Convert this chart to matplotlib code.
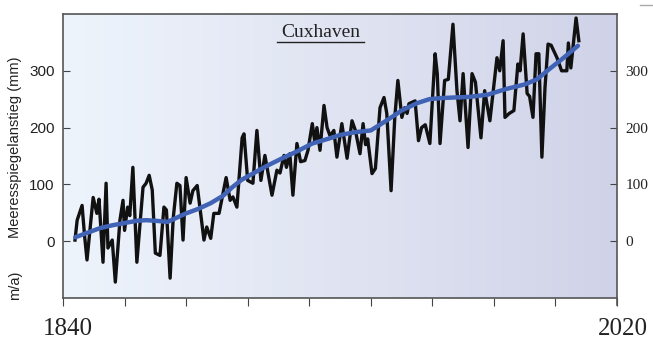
import numpy as np
import matplotlib.pyplot as plt
from matplotlib.colors import LinearSegmentedColormap

# annual sea level at Cuxhaven, vertices
years = [1843.9, 1844.6, 1846.2, 1847.0, 1847.8, 1849.8, 1851.0, 1851.7, 1853.0, 1854.0,
         1854.6, 1856.0, 1857.0, 1858.5, 1859.5, 1860.0, 1861.0, 1861.7, 1862.7, 1864.0,
         1866.0, 1867.0, 1868.0, 1869.0, 1870.0, 1871.5, 1872.8, 1873.6, 1874.8, 1875.8,
         1877.0, 1878.0, 1879.0, 1880.0, 1881.3, 1882.2, 1883.6, 1885.8, 1886.7, 1888.0,
         1889.0, 1890.7, 1893.0, 1894.3, 1895.2, 1896.5, 1898.2, 1898.8, 1900.0, 1901.7,
         1903.0, 1904.3, 1905.6, 1907.9, 1909.5, 1910.5, 1911.8, 1912.6, 1913.7, 1914.7,
         1916.0, 1917.2, 1918.6, 1919.6, 1921.0, 1921.8, 1922.5, 1923.5, 1924.8, 1925.8,
         1926.8, 1928.0, 1929.0, 1930.6, 1932.3, 1933.9, 1935.0, 1936.5, 1937.5, 1938.3,
         1939.0, 1940.4, 1941.5, 1943.0, 1944.3, 1945.2, 1946.6, 1947.8, 1948.8, 1950.1,
         1951.0, 1951.8, 1952.4, 1954.4, 1955.5, 1956.5, 1957.7, 1959.2, 1960.9, 1961.6,
         1962.5, 1964.0, 1965.2, 1966.7, 1968.0, 1969.0, 1970.0, 1971.6, 1972.9, 1974.0,
         1975.8, 1977.0, 1978.7, 1981.0, 1981.9, 1983.0, 1983.6, 1985.0, 1986.5, 1987.8,
         1988.5, 1989.5, 1990.8, 1991.6, 1992.7, 1993.7, 1994.6, 1995.6, 1996.6, 1997.6,
         1998.6, 2000.5, 2002.0, 2003.7, 2004.2, 2005.0, 2006.7, 2007.6]
sea_level = [2, 37, 63, 10, -33, 77, 49, 74, -37, 102,
             -12, 2, -72, 37, 72, 19, 60, 45, 130, -37,
             95, 102, 116, 90, -21, -25, 60, 55, -65, 40,
             102, 98, 2, 112, 67, 89, 98, 2, 25, 5,
             49, 49, 112, 72, 78, 60, 182, 189, 107, 102,
             195, 107, 151, 81, 125, 120, 151, 130, 154, 81,
             172, 140, 142, 160, 207, 175, 200, 160, 239, 200,
             185, 195, 148, 207, 146, 212, 195, 154, 207, 170,
             180, 119, 128, 235, 253, 225, 89, 218, 283, 218,
             235, 225, 242, 247, 177, 200, 205, 172, 330, 295,
             172, 283, 285, 382, 265, 212, 295, 165, 295, 280,
             182, 265, 212, 323, 300, 353, 218, 225, 230, 312,
             300, 365, 260, 255, 218, 330, 330, 148, 270, 347,
             345, 323, 300, 300, 349, 305, 393, 353]

# smoothed trend (blue)
trend_years = [1844, 1848, 1852, 1856, 1860, 1864, 1867, 1870, 1874, 1880,
               1884, 1888, 1892, 1895, 1898, 1902, 1906, 1912, 1916, 1921,
               1926, 1930, 1935, 1940, 1945, 1950, 1955, 1959, 1963, 1967,
               1972, 1978, 1984, 1990, 1994, 1998, 2002, 2007.3]
trend = [7, 15, 23, 28, 32, 36, 37, 36, 34, 49,
         57, 67, 80, 95, 108, 120, 132, 148, 158, 172,
         180, 187, 192, 195, 212, 230, 243, 250, 252, 253,
         254, 258, 268, 276, 285, 303, 320, 344]

fig = plt.figure(figsize=(6.53, 3.39), dpi=100)
ax = fig.add_axes([63 / 653, 1 - 298 / 339, 554 / 653, 284 / 339])

# background gradient
cmap = LinearSegmentedColormap.from_list('bg', ['#eef4fc', '#e0e4f2', '#d0d3e8'])
ax.imshow(np.linspace(0, 1, 256).reshape(1, -1), cmap=cmap, aspect='auto',
          extent=[1840, 2020, -100, 400], zorder=0)

ax.plot(years, sea_level, color='#111111', lw=2.4, solid_joinstyle='round', zorder=2)
ax.plot(trend_years, trend, color='#4063b5', lw=3.2, solid_capstyle='round', zorder=3)

ax.set_xlim(1840, 2020)
ax.set_ylim(-100, 400)
ax.set_xticks(np.arange(1840, 2021, 20))
ax.set_xticklabels([])
ax.tick_params(axis='x', direction='out', length=6, color='#444444')
ax.set_yticks([0, 100, 200, 300])
ax.tick_params(axis='y', direction='in', length=5, color='#444444',
               labelsize=11, pad=6, right=True, labelright=True)
for t in ax.yaxis.get_major_ticks():
    t.label1.set_family('Liberation Sans')
    t.label1.set_color('#222222')
    # right labels in serif
    t.label2.set_family('Liberation Serif')
    t.label2.set_fontsize(11)
    t.label2.set_color('#222222')

for side in ['left', 'bottom', 'top', 'right']:
    ax.spines[side].set_color('#555555')
    ax.spines[side].set_linewidth(1.2)
ax.spines['right'].set_bounds(-113, 400)

# title with underline
ax.text(0.465, 0.935, 'Cuxhaven', transform=ax.transAxes, ha='center', va='center',
        fontsize=14, family='Liberation Serif', color='#222222')
ax.plot([0.386, 0.543], [0.9, 0.9], transform=ax.transAxes, color='#222222',
        lw=1.0, clip_on=False)

fig.text(15 / 653, 1 - 147 / 339, 'Meeresspiegelanstieg (mm)', rotation=90,
         ha='center', va='center', fontsize=10.5, family='Liberation Sans', color='#222222')
fig.text(15 / 653, 1 - 285 / 339, 'm/a)', rotation=90,
         ha='center', va='center', fontsize=10.5, family='Liberation Sans', color='#222222')

fig.text(68 / 653, 1 - 329 / 339, '1840', ha='center', va='center', fontsize=18,
         family='Liberation Serif', color='#222222')
fig.text(623 / 653, 1 - 329 / 339, '2020', ha='center', va='center', fontsize=18,
         family='Liberation Serif', color='#222222')

# small grey stroke in the top right corner
fig.add_artist(plt.Line2D([640 / 653, 653 / 653], [1 - 5 / 339, 1 - 5 / 339],
                          color='#aaaaaa', lw=1.0))

fig.savefig('out.png', dpi=100)
